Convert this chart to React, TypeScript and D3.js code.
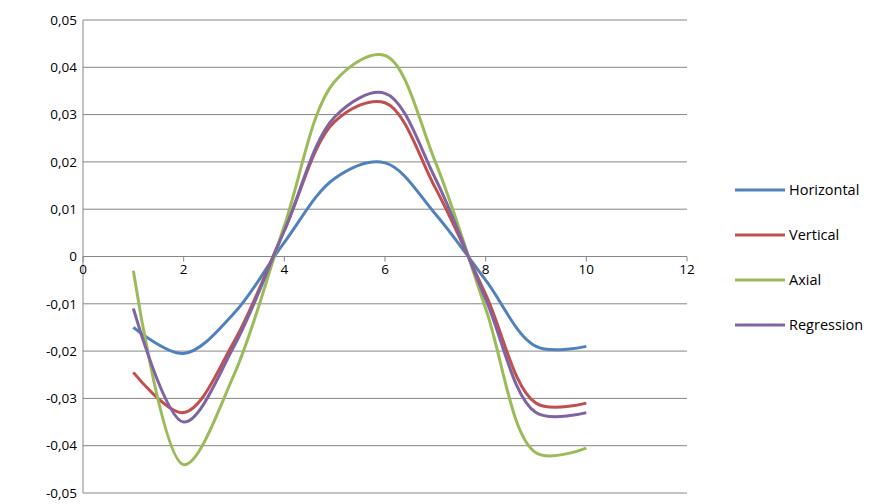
import React from 'react';
import * as d3 from 'd3';

const xs = [1, 2, 3, 4, 5, 6, 7, 8, 9, 10];
const horizontal = [-0.015, -0.0205, -0.012, 0.003, 0.0165, 0.0198, 0.009, -0.005, -0.019, -0.019];
const vertical = [-0.0245, -0.033, -0.018, 0.0055, 0.0285, 0.0325, 0.0145, -0.008, -0.031, -0.031];
const axial = [-0.003, -0.044, -0.025, 0.0065, 0.037, 0.0425, 0.020, -0.011, -0.0415, -0.0405];
const regression = [-0.011, -0.035, -0.019, 0.0055, 0.0295, 0.0345, 0.0165, -0.009, -0.033, -0.033];
const xTicks = [0, 2, 4, 6, 8, 10, 12];
const yTicks = [-0.05, -0.04, -0.03, -0.02, -0.01, 0, 0.01, 0.02, 0.03, 0.04, 0.05];

const series = [
  { name: 'Horizontal', values: horizontal, color: '#4F81BD' },
  { name: 'Vertical', values: vertical, color: '#C0504D' },
  { name: 'Axial', values: axial, color: '#9BBB59' },
  { name: 'Regression', values: regression, color: '#8064A2' },
];

export default function App() {
  const x = d3.scaleLinear().domain([0, 12]).range([83, 687]);
  const y = d3.scaleLinear().domain([-0.05, 0.05]).range([493, 20]);
  const fmt = (v: number) => (v === 0 ? '0' : d3.format('.2f')(v).replace('.', ',').replace('−', '-'));
  const line = d3.line<number>().x((_, i) => x(xs[i])).y(d => y(d)).curve(d3.curveCatmullRom.alpha(0.5));
  const font = 'Open Sans, sans-serif';

  return (
    <svg width={896} height={504} style={{ position: 'absolute', left: 0, top: 0, background: '#fff' }}>
      {yTicks.map(t => (
        <g key={t}>
          <line x1={x(0)} x2={x(12)} y1={y(t)} y2={y(t)} stroke="#868686" strokeWidth={1} />
          <text x={x(0) - 6} y={y(t)} dy="0.35em" textAnchor="end" fontFamily={font} fontSize={13.5} fill="#000">{fmt(t)}</text>
        </g>
      ))}
      <line x1={x(0)} x2={x(0)} y1={y(0.05)} y2={y(-0.05)} stroke="#868686" />
      {xTicks.map(t => (
        <g key={t}>
          <line x1={x(t)} x2={x(t)} y1={y(0)} y2={y(0) + 5} stroke="#868686" />
          <text x={x(t)} y={y(0) + 17} textAnchor="middle" fontFamily={font} fontSize={13.5} fill="#000">{t}</text>
        </g>
      ))}
      {series.map(s => (
        <path key={s.name} d={line(s.values) || ''} fill="none" stroke={s.color} strokeWidth={3} />
      ))}
      {series.map((s, i) => {
        const ly = 190 + i * 45;
        return (
          <g key={s.name}>
            <line x1={735} x2={785} y1={ly} y2={ly} stroke={s.color} strokeWidth={3} />
            <text x={789} y={ly} dy="0.35em" fontFamily={font} fontSize={14.5} fill="#000">{s.name}</text>
          </g>
        );
      })}
    </svg>
  );
}
